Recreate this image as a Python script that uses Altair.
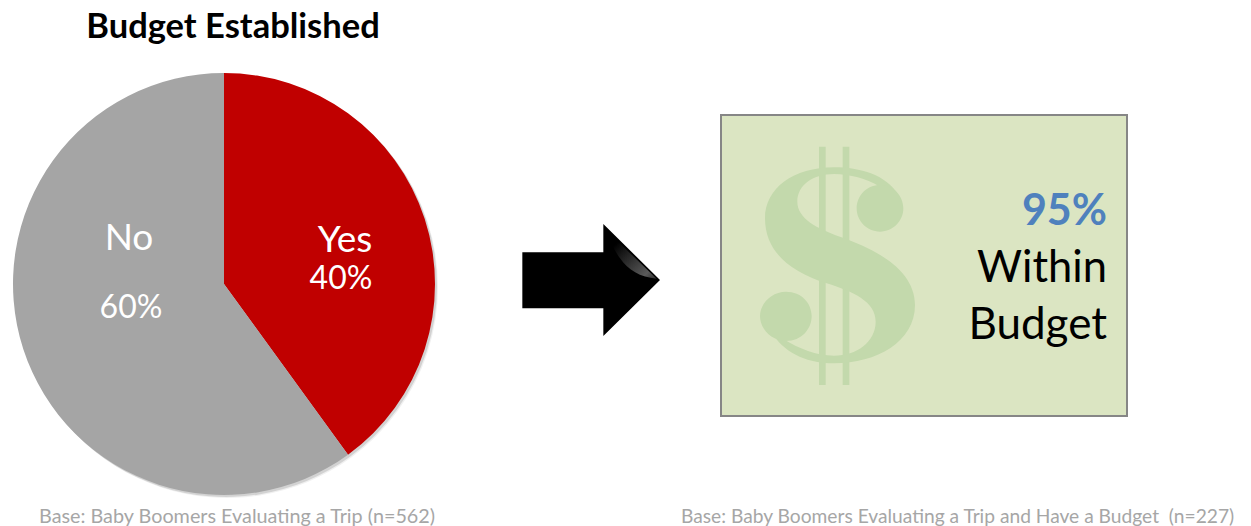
import altair as alt
import pandas as pd

answers = ["Yes", "No"]
shares = [40, 60]
order = [0, 1]
FONT = "Lato"
OX, OY = 8, 8  # page margin

pie_df = pd.DataFrame({"answer": answers, "share": shares, "order": order})
one = pd.DataFrame({"k": [0]})


def px(x):
    return alt.value(x - OX)


def py(y):
    return alt.value(y - OY)


def arc(cx, cy, r, color=None, opacity=1.0, colored=False):
    enc = dict(theta=alt.Theta("share:Q", stack=True), order=alt.Order("order:Q"),
               x=px(cx), y=py(cy))
    if colored:
        enc["color"] = alt.Color("answer:N", legend=None,
                                 scale=alt.Scale(domain=answers, range=["#c00000", "#a5a5a5"]))
        return alt.Chart(pie_df).mark_arc(radius=r).encode(**enc)
    return alt.Chart(pie_df).mark_arc(radius=r, color=color, opacity=opacity).encode(**enc)


def label(text, x, y, size, color, align="center", weight="normal"):
    return alt.Chart(pd.DataFrame({"t": [text]})).mark_text(
        font=FONT, fontSize=size, color=color, align=align, baseline="alphabetic", fontWeight=weight
    ).encode(text="t:N", x=px(x), y=py(y))


def glyph(path, ox, oy, color, opacity=1.0, scale=1 / 3):
    return alt.Chart(one).mark_point(
        shape=path, size=(2 * scale) ** 2, filled=True, fill=color, stroke=None, opacity=opacity
    ).encode(x=px(ox), y=py(oy))


ARROW = "M67 157L310 157L310 72L480 240L310 408L310 325L67 325Z"
SHEEN = "M316 88L470 236C420 232 385 210 360 175C342 150 330 125 316 88Z"
S_BODY = ("M372 187C450 187 530 210 565 270L505 242C470 222 420 207 372 207C310 207 262 240 262 290"
          "C262 340 320 370 390 395C510 437 615 500 615 600C615 710 500 775 372 775"
          "C300 775 230 750 190 690L225 705C265 730 320 752 372 752C440 752 497 710 497 650"
          "C497 590 430 560 350 535C240 500 165 440 165 340C165 250 250 187 372 187Z")
S_BALLS = ("M510 240A70 70 0 1 1 510 380A70 70 0 1 1 510 240Z"
           "M228 560C275 560 305 595 305 633C305 672 275 708 228 708C185 708 150 672 150 633C150 595 185 560 228 560Z")
BARS = "M327 125L347 125L347 840L327 840ZM398 125L418 125L418 840L398 840Z"

sheen_fill = alt.Gradient(gradient="linear", x1=0, y1=0, x2=1, y2=1, stops=[
    alt.GradientStop(color="#000000", offset=0.25),
    alt.GradientStop(color="#5a5a5a", offset=0.85),
    alt.GradientStop(color="#2a2a2a", offset=1)])

card = alt.Chart(one).mark_rect(fill="#dbe5c2", stroke="#868686", strokeWidth=2).encode(
    x=px(721), x2=px(1127), y=py(115), y2=py(416))

chart = alt.layer(
    label("Budget Established", 233, 38, 34.5, "#000000", weight="bold"),
    arc(227, 287, 211, "#000000", 0.06),
    arc(226, 286, 211, "#000000", 0.12),
    arc(224, 284, 211, colored=True),
    label("No", 129, 250, 37, "#ffffff"),
    label("60%", 131, 318, 32, "#ffffff"),
    label("Yes", 345, 252, 37, "#ffffff"),
    label("40%", 341, 289, 32, "#ffffff"),
    glyph(ARROW, 500, 200, "#000000"),
    glyph(SHEEN, 500, 200, sheen_fill),
    card,
    glyph(BARS, 710, 105, "#c3d9ac"),
    glyph(S_BODY, 710, 105, "#c3d9ac"),
    glyph(S_BALLS, 710, 105, "#c3d9ac"),
    label("95%", 1107, 225, 43, "#4f81bd", align="right", weight="bold"),
    label("Within", 1107, 282, 43.5, "#000000", align="right"),
    label("Budget", 1107, 339, 44, "#000000", align="right"),
    label("Base: Baby Boomers Evaluating a Trip (n=562)", 39, 523, 19.8, "#a6a6a6", align="left"),
    label("Base: Baby Boomers Evaluating a Trip and Have a Budget\u00a0 (n=227)", 681, 523, 19.2, "#a6a6a6", align="left"),
).properties(width=1235, height=518, padding=0).configure_view(stroke=None)

chart.save("out.html", embed_options={"renderer": "svg", "actions": False})
